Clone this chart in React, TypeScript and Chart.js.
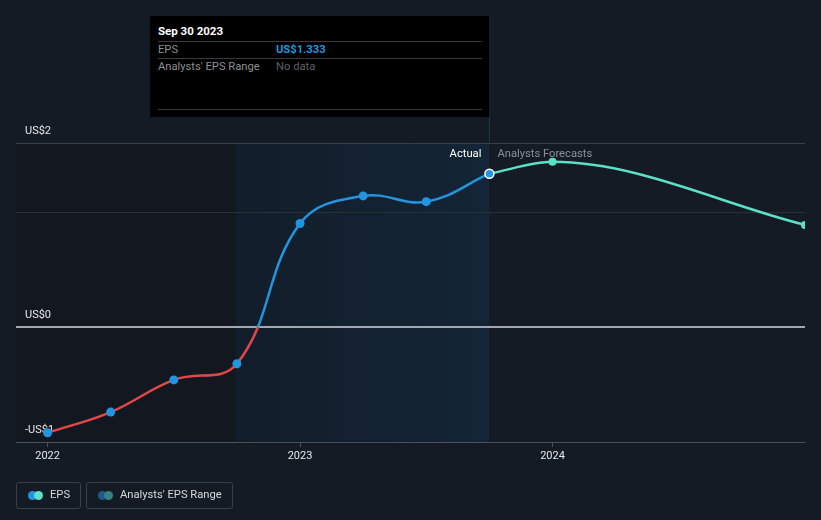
import React, { useEffect, useRef } from "react";
import { Chart, registerables } from "chart.js";

Chart.register(...registerables);

// ---- data ----
const actualDates = [2022.0, 2022.25, 2022.5, 2022.75, 2023.0, 2023.25, 2023.5, 2023.75];
const actualEps = [-0.92, -0.74, -0.46, -0.32, 0.9, 1.14, 1.09, 1.333];
const forecastDates = [2023.75, 2024.0, 2025.0];
const forecastEps = [1.333, 1.436, 0.888];
const yearTicks = [2022, 2023, 2024];
const yTickValues = [-1, 0, 1, 1.6];
const yTickLabels = ["-US$1", "US$0", "", "US$2"];
const pastShadeStart = 2022.745;
const actualEnd = 2023.75;

const BLUE = "#2394df";
const RED = "#e04848";
const TEAL = "#5ce0c8";
const FONT = "Roboto, 'Noto Sans', sans-serif";
const TOOLTIP_BOTTOM = 117;
const SMALL = 11.2;

const bandsPlugin = {
  id: "bands",
  beforeDraw(chart: any) {
    const { ctx, chartArea: a, scales } = chart;
    const x1 = scales.x.getPixelForValue(pastShadeStart);
    const x2 = scales.x.getPixelForValue(actualEnd);
    ctx.save();
    ctx.fillStyle = "#13171f";
    ctx.fillRect(a.left, a.top, x1 - a.left, a.bottom - a.top);
    const g = ctx.createLinearGradient(x1, 0, x2, 0);
    g.addColorStop(0, "#121d2a");
    g.addColorStop(1, "#132536");
    ctx.fillStyle = g;
    ctx.fillRect(x1, a.top, x2 - x1, a.bottom - a.top);
    ctx.restore();
  },
  beforeDatasetsDraw(chart: any) {
    const { ctx, chartArea: a, scales } = chart;
    const x2 = Math.round(scales.x.getPixelForValue(actualEnd)) + 0.5;
    ctx.save();
    ctx.strokeStyle = "#1f354b";
    ctx.lineWidth = 1;
    ctx.beginPath();
    ctx.moveTo(x2, TOOLTIP_BOTTOM);
    ctx.lineTo(x2, a.top);
    ctx.stroke();
    ctx.restore();
  },
  afterDraw(chart: any) {
    const { ctx, chartArea: a, scales } = chart;
    const x2 = scales.x.getPixelForValue(actualEnd);
    ctx.save();
    ctx.font = `${SMALL}px ${FONT}`;
    ctx.textBaseline = "middle";
    ctx.textAlign = "right";
    ctx.fillStyle = "#ffffff";
    ctx.fillText("Actual", x2 - 8, a.top + 11);
    ctx.textAlign = "left";
    ctx.fillStyle = "#8a8f97";
    ctx.fillText("Analysts Forecasts", x2 + 8, a.top + 11);
    ctx.restore();
  },
};

function gridColor(ctx: any) {
  const v = ctx.tick ? ctx.tick.value : null;
  if (v === 0) return "#a3a8ae";
  if (v === -1) return "#4a4f58";
  if (v === 1) return "#2a303a";
  return "#3b414b";
}

function gridWidth(ctx: any) {
  const v = ctx.tick ? ctx.tick.value : null;
  return v === 0 ? 2 : 1;
}

function actualLineColor(ctx: any) {
  const chart = ctx.chart;
  const { chartArea, scales } = chart;
  if (!chartArea) return BLUE;
  const y0 = scales.y.getPixelForValue(0);
  const g = chart.ctx.createLinearGradient(0, chartArea.top, 0, chartArea.bottom);
  const stop = Math.min(1, Math.max(0, (y0 - chartArea.top) / (chartArea.bottom - chartArea.top)));
  g.addColorStop(0, BLUE);
  g.addColorStop(stop, BLUE);
  g.addColorStop(stop, RED);
  g.addColorStop(1, RED);
  return g;
}

export default function App() {
  const canvasRef = useRef<HTMLCanvasElement | null>(null);

  useEffect(() => {
    if (!canvasRef.current) return;
    const lastIdx = actualDates.length - 1;
    const chart = new Chart(canvasRef.current, {
      type: "line",
      data: {
        datasets: [
          {
            label: "EPS",
            data: actualDates.map((d, i) => ({ x: d, y: actualEps[i] })),
            borderColor: actualLineColor,
            borderWidth: 2.5,
            tension: 0.4,
            pointRadius: 4.5,
            pointBackgroundColor: BLUE,
            pointBorderColor: (c: any) => (c.dataIndex === lastIdx ? "#ffffff" : BLUE),
            pointBorderWidth: (c: any) => (c.dataIndex === lastIdx ? 1.5 : 0),
            order: 1,
          },
          {
            label: "Forecast",
            data: forecastDates.map((d, i) => ({ x: d, y: forecastEps[i] })),
            borderColor: TEAL,
            borderWidth: 2.5,
            cubicInterpolationMode: "monotone",
            pointRadius: (c: any) => (c.dataIndex === 0 ? 0 : 4),
            pointBackgroundColor: TEAL,
            pointBorderWidth: 0,
            order: 2,
          },
        ],
      },
      options: {
        animation: false,
        responsive: false,
        maintainAspectRatio: false,
        layout: { padding: { left: 16, right: 16, top: 143, bottom: 48 } },
        plugins: { legend: { display: false }, tooltip: { enabled: false } },
        scales: {
          x: {
            type: "linear",
            min: 2021.875,
            max: 2025.0,
            afterBuildTicks: (scale: any) => {
              scale.ticks = yearTicks.map((v) => ({ value: v }));
            },
            afterFit: (scale: any) => {
              scale.height = 30;
            },
            border: { display: false },
            grid: {
              drawOnChartArea: false,
              drawTicks: true,
              tickLength: 5,
              color: "#4a4f58",
            },
            ticks: {
              color: "#e6e7e9",
              font: { family: FONT, size: 11 },
              padding: 3,
              maxRotation: 0,
              callback: (v: any) => String(v),
            },
          },
          y: {
            type: "linear",
            min: -1,
            max: 1.6,
            afterBuildTicks: (scale: any) => {
              scale.ticks = yTickValues.map((v) => ({ value: v }));
            },
            afterFit: (scale: any) => {
              scale.width = 0;
            },
            border: { display: false },
            grid: { color: gridColor, drawTicks: false, lineWidth: gridWidth },
            ticks: {
              mirror: true,
              padding: 9,
              labelOffset: -12,
              color: "#e6e7e9",
              font: { family: FONT, size: 11 },
              callback: (v: any) => {
                const i = yTickValues.indexOf(Number(v));
                return i >= 0 ? yTickLabels[i] : "";
              },
            },
          },
        },
      },
      plugins: [bandsPlugin],
    } as any);
    return () => chart.destroy();
  }, []);

  const rowLine: React.CSSProperties = {
    position: "absolute",
    left: 8,
    width: 324,
    height: 1,
    background: "#3a3a3a",
  };
  const txt: React.CSSProperties = {
    position: "absolute",
    fontSize: SMALL,
    lineHeight: "14px",
    whiteSpace: "nowrap",
  };

  return (
    <div
      style={{
        position: "fixed",
        left: 0,
        top: 0,
        width: 821,
        height: 520,
        background: "#151b25",
        fontFamily: FONT,
        overflow: "hidden",
      }}
    >
      <canvas ref={canvasRef} width={821} height={520} style={{ position: "absolute", left: 0, top: 0, width: 821, height: 520 }} />
      {/* tooltip */}
      <div style={{ position: "absolute", left: 150, top: 16, width: 339, height: 101, background: "#000000" }}>
        <div style={{ ...txt, left: 8, top: 8, color: "#ffffff", fontWeight: 700, fontSize: 11.5 }}>Sep 30 2023</div>
        <div style={{ ...rowLine, top: 25 }} />
        <div style={{ ...txt, left: 8, top: 27, color: "#8c8f94" }}>EPS</div>
        <div style={{ ...txt, left: 126, top: 27, color: BLUE, fontWeight: 700 }}>US$1.333</div>
        <div style={{ ...rowLine, top: 42 }} />
        <div style={{ ...txt, left: 8, top: 44, color: "#8c8f94" }}>Analysts' EPS Range</div>
        <div style={{ ...txt, left: 126, top: 44, color: "#5d6066" }}>No data</div>
        <div style={{ ...rowLine, top: 93 }} />
      </div>
      {/* legend */}
      <div
        style={{
          position: "absolute",
          left: 16,
          top: 482,
          width: 63,
          height: 25,
          border: "1px solid #3a404a",
          borderRadius: 3,
        }}
      >
        <span style={{ position: "absolute", left: 11, top: 8, width: 9, height: 9, borderRadius: 5, background: BLUE }} />
        <span style={{ position: "absolute", left: 17, top: 8, width: 9, height: 9, borderRadius: 5, background: TEAL }} />
        <span style={{ ...txt, left: 33, top: 5, color: "#d6d8db" }}>EPS</span>
      </div>
      <div
        style={{
          position: "absolute",
          left: 86,
          top: 482,
          width: 145,
          height: 25,
          border: "1px solid #3a404a",
          borderRadius: 3,
        }}
      >
        <span style={{ position: "absolute", left: 11, top: 8, width: 9, height: 9, borderRadius: 5, background: "#1d5a8a" }} />
        <span style={{ position: "absolute", left: 17, top: 8, width: 9, height: 9, borderRadius: 5, background: "#3b7f80" }} />
        <span style={{ ...txt, left: 33, top: 5, color: "#d6d8db" }}>Analysts' EPS Range</span>
      </div>
    </div>
  );
}
